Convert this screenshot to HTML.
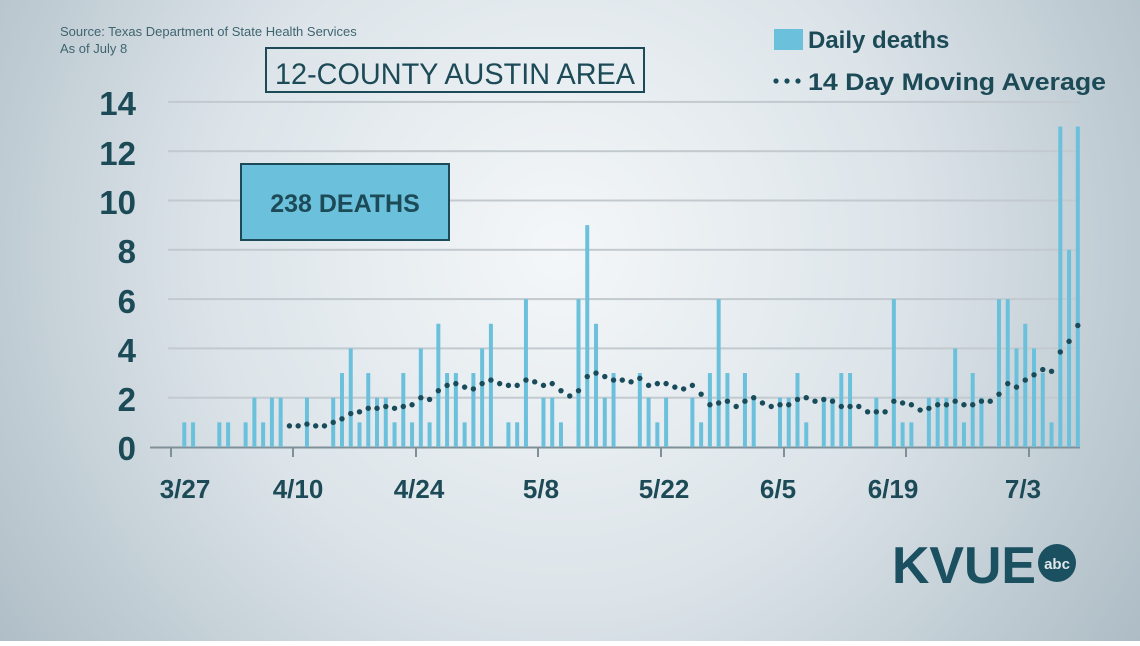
<!DOCTYPE html>
<html><head><meta charset="utf-8"><style>
html,body{margin:0;padding:0;}
body{width:1140px;height:641px;overflow:hidden;font-family:"Liberation Sans",sans-serif;}
</style></head><body>
<svg id="s" width="1140" height="641" xmlns="http://www.w3.org/2000/svg" font-family="Liberation Sans, sans-serif">
<defs>
<radialGradient id="bg" cx="560" cy="250" r="700" gradientUnits="userSpaceOnUse">
<stop offset="0" stop-color="#f4f7f9"/>
<stop offset="0.5" stop-color="#dce4e9"/>
<stop offset="1" stop-color="#adbcc5"/>
</radialGradient>
</defs>
<rect width="1140" height="641" fill="url(#bg)"/>
<g id="grid"></g>
<g id="bars" fill="#6bc0dc"></g>
<g id="dots" fill="#194c5a"></g>
<g fill="#1c4a57" font-size="33" font-weight="bold" text-anchor="end">
<text x="136" y="115">14</text><text x="136" y="165">12</text><text x="136" y="214">10</text>
<text x="136" y="263">8</text><text x="136" y="313">6</text><text x="136" y="362">4</text>
<text x="136" y="411">2</text><text x="136" y="460">0</text>
</g>
<g fill="#1c4a57" font-size="26" font-weight="bold" text-anchor="middle">
<text x="185" y="498">3/27</text><text x="298" y="498">4/10</text><text x="419" y="498">4/24</text>
<text x="541" y="498">5/8</text><text x="664" y="498">5/22</text><text x="778" y="498">6/5</text>
<text x="893" y="498">6/19</text><text x="1023" y="498">7/3</text>
</g>
<text x="60" y="36" font-size="13" fill="#3f6470">Source: Texas Department of State Health Services</text>
<text x="60" y="53" font-size="13" fill="#3f6470">As of July 8</text>
<rect x="266" y="48" width="378" height="44" fill="none" stroke="#1c4a57" stroke-width="2"/>
<text x="455" y="84" font-size="30" fill="#1c4a57" text-anchor="middle" textLength="360" lengthAdjust="spacingAndGlyphs">12-COUNTY AUSTIN AREA</text>
<rect x="241" y="164" width="208" height="76" fill="#6bc0dc" stroke="#1c4a57" stroke-width="2"/>
<text x="345" y="212" font-size="25" font-weight="bold" fill="#1c4a57" text-anchor="middle">238 DEATHS</text>
<rect x="774" y="29" width="29" height="21" fill="#6bc0dc"/>
<text x="808" y="48" font-size="24" font-weight="bold" fill="#1c4a57">Daily deaths</text>
<g fill="#194c5a"><circle cx="776" cy="81" r="2.6"/><circle cx="787" cy="81" r="2.6"/><circle cx="798" cy="81" r="2.6"/></g>
<text x="808" y="90" font-size="24" font-weight="bold" fill="#1c4a57" textLength="298" lengthAdjust="spacingAndGlyphs">14 Day Moving Average</text>
<text x="892" y="583" font-size="52" font-weight="bold" fill="#1a5060" textLength="144" lengthAdjust="spacingAndGlyphs">KVUE</text>
<circle cx="1057" cy="563" r="19" fill="#1a5060"/>
<text x="1057" y="569" font-size="15" font-weight="bold" fill="#dfe7eb" text-anchor="middle">abc</text>
</svg>
<script>
var d=new Array(103).fill(0);
var v={0:1,1:1,4:1,5:1,7:1,8:2,9:1,10:2,11:2,14:2,17:2,18:3,19:4,20:1,21:3,22:2,23:2,24:1,25:3,26:1,27:4,28:1,29:5,30:3,31:3,32:1,33:3,34:4,35:5,37:1,38:1,39:6,41:2,42:2,43:1,45:6,46:9,47:5,48:2,49:3,52:3,53:2,54:1,55:2,58:2,59:1,60:3,61:6,62:3,64:3,65:2,68:2,69:2,70:3,71:1,73:2,74:2,75:3,76:3,79:2,81:6,82:1,83:1,85:2,86:2,87:2,88:4,89:1,90:3,91:2,93:6,94:6,95:4,96:5,97:4,98:3,99:1,100:13,101:8,102:13};
for(var k in v)d[k]=v[k];
var ns="http://www.w3.org/2000/svg";
function el(t,a,p){var e=document.createElementNS(ns,t);for(var q in a)e.setAttribute(q,a[q]);document.getElementById(p).appendChild(e);}
var y0=447,u=24.65;
for(var g=2;g<=14;g+=2)el("rect",{x:168,y:y0-g*u-1,width:912,height:2,fill:"#c3cacf"},"grid");
el("rect",{x:150,y:y0-0.5,width:930,height:2,fill:"#7f9098"},"grid");
[171,293,416,538,661,784,906,1029].forEach(function(x){el("rect",{x:x-1,y:y0,width:2,height:10,fill:"#7f9098"},"grid");});
for(var i=0;i<103;i++){var cx=184.3+8.76*i;
 if(d[i])el("rect",{x:cx-2,y:y0-d[i]*u,width:4,height:d[i]*u},"bars");
 if(i>=12){var s=0;for(var j=Math.max(0,i-13);j<=i;j++)s+=d[j];el("circle",{cx:cx,cy:y0-s/14*u,r:2.7},"dots");}}
</script>
</body></html>
